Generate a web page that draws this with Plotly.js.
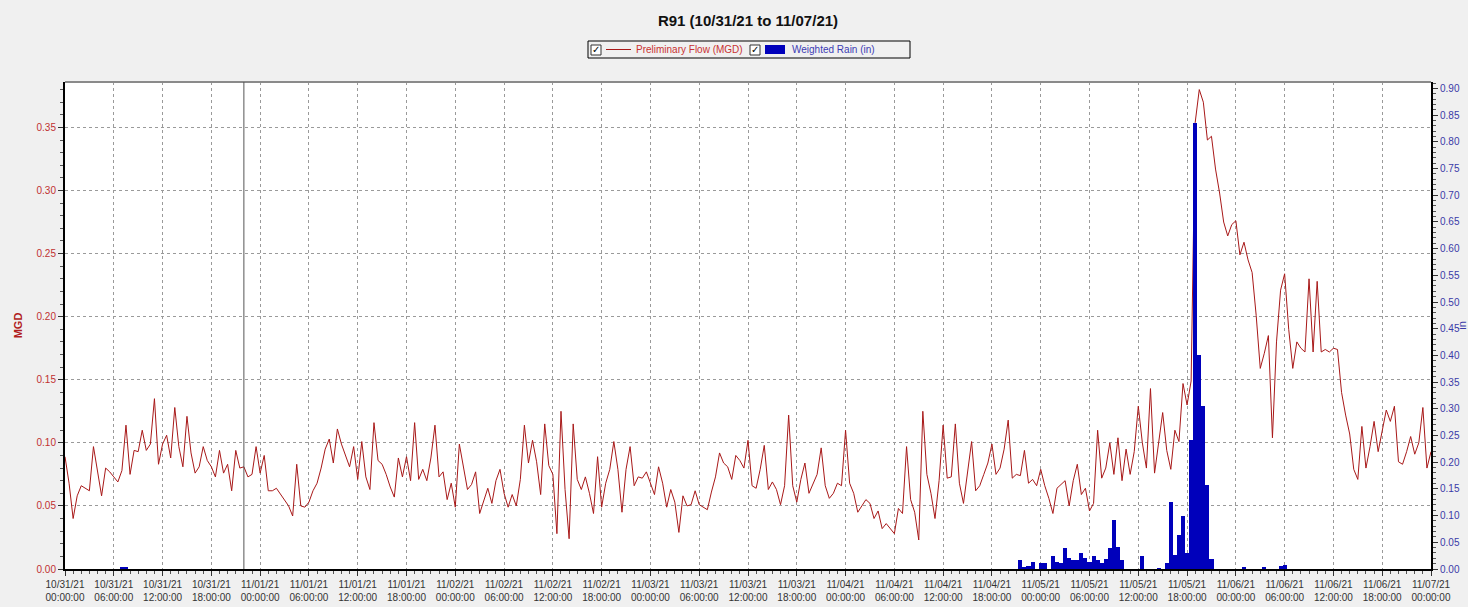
<!DOCTYPE html>
<html>
<head>
<meta charset="utf-8">
<script src="https://cdn.plot.ly/plotly-3.0.1.min.js"></script>
<style>
  html, body { margin: 0; padding: 0; background: #f0f0f0; }
  #chart { width: 1468px; height: 607px; }
</style>
</head>
<body>
<div id="chart"></div>
<script>
// ---------------- DATA (30-minute flow readings, MGD) ----------------
const flowStart = '2021-10-31 00:00';
const flowStepMinutes = 30;

const flowOct31 = [0.089,0.068,0.040,0.058,0.066,0.064,0.062,0.097,0.076,0.058,0.080,0.077,
  0.073,0.069,0.078,0.114,0.075,0.094,0.093,0.110,0.094,0.099,0.135,0.083,
  0.099,0.106,0.088,0.128,0.097,0.081,0.121,0.092,0.076,0.081,0.097,0.086,
  0.081,0.073,0.094,0.076,0.083,0.062,0.094,0.080,0.081,0.073,0.075,0.097];
const flowNov01 = [0.076,0.090,0.062,0.062,0.064,0.059,0.055,0.050,0.042,0.083,0.050,0.049,
  0.053,0.062,0.068,0.080,0.095,0.103,0.084,0.111,0.099,0.090,0.081,0.097,
  0.071,0.101,0.073,0.063,0.116,0.086,0.083,0.075,0.065,0.057,0.088,0.073,
  0.089,0.070,0.116,0.071,0.079,0.070,0.088,0.114,0.073,0.077,0.055,0.068];
const flowNov02 = [0.049,0.099,0.081,0.063,0.067,0.077,0.044,0.055,0.064,0.052,0.070,0.079,
  0.060,0.049,0.059,0.050,0.071,0.114,0.084,0.102,0.085,0.059,0.115,0.082,
  0.075,0.028,0.125,0.063,0.024,0.115,0.071,0.063,0.073,0.060,0.044,0.089,
  0.049,0.068,0.079,0.101,0.079,0.045,0.079,0.097,0.066,0.073,0.072,0.077];
const flowNov03 = [0.068,0.059,0.081,0.068,0.049,0.063,0.053,0.029,0.058,0.050,0.051,0.062,
  0.051,0.049,0.047,0.061,0.073,0.092,0.084,0.081,0.071,0.090,0.086,0.080,
  0.102,0.066,0.064,0.079,0.098,0.063,0.069,0.063,0.051,0.066,0.122,0.066,
  0.053,0.071,0.084,0.060,0.068,0.075,0.096,0.066,0.056,0.060,0.068,0.066];
const flowNov04 = [0.110,0.068,0.060,0.045,0.050,0.055,0.052,0.040,0.046,0.032,0.036,0.032,
  0.028,0.048,0.044,0.097,0.055,0.045,0.023,0.125,0.075,0.060,0.040,0.070,
  0.114,0.072,0.073,0.115,0.068,0.052,0.075,0.101,0.062,0.066,0.075,0.084,
  0.099,0.075,0.080,0.095,0.118,0.072,0.075,0.074,0.094,0.068,0.071,0.066];
const flowNov05 = [0.079,0.066,0.056,0.044,0.064,0.067,0.070,0.050,0.070,0.083,0.059,0.064,
  0.046,0.052,0.110,0.072,0.080,0.100,0.075,0.104,0.070,0.095,0.075,0.093,
  0.129,0.100,0.080,0.143,0.076,0.100,0.124,0.094,0.079,0.110,0.101,0.147,
  0.130,0.149,0.354,0.380,0.370,0.340,0.343,0.317,0.298,0.275,0.264,0.273];
const flowNov06 = [0.276,0.249,0.259,0.245,0.235,0.201,0.159,0.171,0.185,0.104,0.180,0.221,
  0.234,0.190,0.159,0.180,0.175,0.172,0.230,0.172,0.228,0.172,0.174,0.172,
  0.175,0.174,0.140,0.122,0.107,0.079,0.071,0.113,0.080,0.097,0.117,0.093,
  0.110,0.126,0.117,0.129,0.085,0.083,0.093,0.105,0.091,0.100,0.128,0.080];
const flowNov07 = [0.093];

// ---------------- DATA (weighted rain, inches per 30 min) ----------------
const rainTimes = ['2021-10-31 07:00','2021-10-31 07:30',
  '2021-11-04 21:30','2021-11-04 22:00','2021-11-04 22:30','2021-11-04 23:00',
  '2021-11-05 00:00','2021-11-05 00:30','2021-11-05 01:30','2021-11-05 02:00','2021-11-05 02:30',
  '2021-11-05 03:00','2021-11-05 03:30','2021-11-05 04:00','2021-11-05 04:30','2021-11-05 05:00',
  '2021-11-05 05:30','2021-11-05 06:00','2021-11-05 06:30','2021-11-05 07:00','2021-11-05 07:30',
  '2021-11-05 08:00','2021-11-05 08:30','2021-11-05 09:00','2021-11-05 09:30','2021-11-05 10:00',
  '2021-11-05 12:30','2021-11-05 14:30','2021-11-05 15:30','2021-11-05 16:00','2021-11-05 16:30',
  '2021-11-05 17:00','2021-11-05 17:30','2021-11-05 18:00','2021-11-05 18:30','2021-11-05 19:00',
  '2021-11-05 19:30','2021-11-05 20:00','2021-11-05 20:30','2021-11-05 21:00',
  '2021-11-06 01:00','2021-11-06 03:30','2021-11-06 05:30','2021-11-06 06:00'];
const rainValues = [0.004,0.004,
  0.016,0.004,0.006,0.014,
  0.011,0.011,0.025,0.014,0.011,
  0.039,0.020,0.017,0.017,0.030,
  0.020,0.014,0.024,0.017,0.011,
  0.019,0.039,0.092,0.042,0.017,
  0.024,0.002,0.011,0.126,0.027,
  0.064,0.099,0.030,0.241,0.836,
  0.400,0.306,0.157,0.018,
  0.003,0.003,0.006,0.008];

const markerTime = '2021-10-31 22:00';
const xStart = '2021-10-31 00:00';
const xEnd = '2021-11-07 00:00';

const titleText = 'R91 (10/31/21 to 11/07/21)';
const flowName = 'Preliminary Flow (MGD)';
const rainName = 'Weighted Rain (in)';

// ---------------- BUILD ----------------
const flowValues = [].concat(flowOct31, flowNov01, flowNov02, flowNov03, flowNov04, flowNov05, flowNov06, flowNov07);
function pad(n){ return (n < 10 ? '0' : '') + n; }
const t0 = Date.parse(flowStart.replace(' ', 'T') + ':00Z');
const flowTimes = flowValues.map((v, i) => {
  const d = new Date(t0 + i * flowStepMinutes * 60000);
  return d.getUTCFullYear() + '-' + pad(d.getUTCMonth()+1) + '-' + pad(d.getUTCDate()) + ' ' +
         pad(d.getUTCHours()) + ':' + pad(d.getUTCMinutes());
});

const W = 1468, H = 607, ML = 65, MR = 37, MT = 82, MB = 38;
const px = x => (x - ML) / (W - ML - MR);
const py = y => (H - MB - y) / (H - MT - MB);

const FLOW_COLOR = '#a81818';
const RAIN_COLOR = '#0000bb';
const FONT = 'Liberation Sans, Arial, sans-serif';

const traces = [
  { x: flowTimes, y: flowValues, type: 'scatter', mode: 'lines', name: flowName,
    line: { color: FLOW_COLOR, width: 1 }, yaxis: 'y', showlegend: false, hoverinfo: 'skip' },
  { x: rainTimes, y: rainValues, type: 'bar', name: rainName, yaxis: 'y2',
    marker: { color: RAIN_COLOR, line: { width: 0 } }, width: flowStepMinutes * 60000, showlegend: false, hoverinfo: 'skip' }
];

const layout = {
  width: W, height: H,
  paper_bgcolor: '#f0f0f0', plot_bgcolor: '#ffffff',
  margin: { l: ML, r: MR, t: MT, b: MB, pad: 0 },
  font: { family: FONT, size: 10, color: '#333' },
  title: { text: '<b>' + titleText + '</b>', x: px(748), xanchor: 'center', xref: 'paper',
           y: 1 - 21 / H, yanchor: 'middle', font: { family: FONT, size: 15, color: '#111' } },
  bargap: 0,
  xaxis: {
    type: 'date', range: [xStart, xEnd], tick0: xStart, dtick: 6 * 3600000,
    tickformat: '%m/%d/%y<br>%H:%M:%S', tickfont: { family: FONT, size: 10, color: '#333' },
    showgrid: true, gridcolor: '#9a9a9a', griddash: '3px,3px', gridwidth: 1,
    showline: true, linecolor: '#000', linewidth: 2, ticks: 'outside', ticklen: 5, tickcolor: '#333',
    minor: { dtick: 3600000, ticks: 'outside', ticklen: 3, tickcolor: '#555', showgrid: false },
    zeroline: false, fixedrange: true, automargin: false
  },
  yaxis: {
    range: [0, 0.386], dtick: 0.05, tick0: 0, tickformat: '.2f',
    tickfont: { family: FONT, size: 10, color: '#c03030' },
    title: { text: '<b>MGD</b>', font: { family: FONT, size: 11, color: '#b01c1c' }, standoff: 12 },
    showgrid: true, gridcolor: '#9a9a9a', griddash: '3px,3px', gridwidth: 1,
    showline: true, linecolor: '#000', linewidth: 2, ticks: 'outside', ticklen: 5, tickcolor: '#333',
    minor: { dtick: 0.01, ticks: 'outside', ticklen: 3, tickcolor: '#555', showgrid: false },
    zeroline: false, fixedrange: true, automargin: false
  },
  yaxis2: {
    overlaying: 'y', side: 'right', range: [0, 0.912], dtick: 0.05, tick0: 0, tickformat: '.2f',
    tickfont: { family: FONT, size: 10, color: '#3a3aa8' },
    title: { text: 'in', font: { family: FONT, size: 11, color: '#3a3aa8' }, standoff: 9 },
    showgrid: false, showline: true, linecolor: '#000', linewidth: 2,
    ticks: 'outside', ticklen: 5, tickcolor: '#333',
    minor: { dtick: 0.01, ticks: 'outside', ticklen: 3, tickcolor: '#555', showgrid: false },
    zeroline: false, fixedrange: true, automargin: false
  },
  shapes: [
    { type: 'line', xref: 'paper', yref: 'paper', x0: 0, x1: 1, y0: 1, y1: 1, line: { color: '#8a8a8a', width: 2 } },
    { type: 'line', xref: 'x', yref: 'paper', x0: markerTime, x1: markerTime, y0: 0, y1: 1, line: { color: '#555', width: 1 } },
    { type: 'rect', xref: 'paper', yref: 'paper', x0: px(588), x1: px(910), y0: py(58), y1: py(41),
      line: { color: '#000', width: 1 }, fillcolor: 'rgba(0,0,0,0)' },
    { type: 'line', xref: 'paper', yref: 'paper', x0: px(606), x1: px(631), y0: py(49.5), y1: py(49.5),
      line: { color: FLOW_COLOR, width: 1 } },
    { type: 'rect', xref: 'paper', yref: 'paper', x0: px(765), x1: px(785), y0: py(54), y1: py(45),
      line: { width: 0 }, fillcolor: RAIN_COLOR },
    { type: 'rect', xref: 'paper', yref: 'paper', x0: px(591), x1: px(601), y0: py(55), y1: py(45),
      line: { color: '#333', width: 1 }, fillcolor: '#fff' },
    { type: 'rect', xref: 'paper', yref: 'paper', x0: px(750), x1: px(760), y0: py(55), y1: py(45),
      line: { color: '#333', width: 1 }, fillcolor: '#fff' }
  ],
  annotations: [
    { xref: 'paper', yref: 'paper', x: px(596), y: py(50), text: '✓', showarrow: false,
      xanchor: 'center', yanchor: 'middle', font: { family: 'DejaVu Sans', size: 10, color: '#000' } },
    { xref: 'paper', yref: 'paper', x: px(755), y: py(50), text: '✓', showarrow: false,
      xanchor: 'center', yanchor: 'middle', font: { family: 'DejaVu Sans', size: 10, color: '#000' } },
    { xref: 'paper', yref: 'paper', x: px(634), y: py(49.5), text: flowName, showarrow: false,
      xanchor: 'left', yanchor: 'middle', font: { family: FONT, size: 10, color: '#c83232' } },
    { xref: 'paper', yref: 'paper', x: px(790), y: py(49.5), text: rainName, showarrow: false,
      xanchor: 'left', yanchor: 'middle', font: { family: FONT, size: 10, color: '#3c3cb4' } }
  ],
  showlegend: false
};

Plotly.newPlot('chart', traces, layout, { displayModeBar: false, staticPlot: true });
</script>
</body>
</html>
